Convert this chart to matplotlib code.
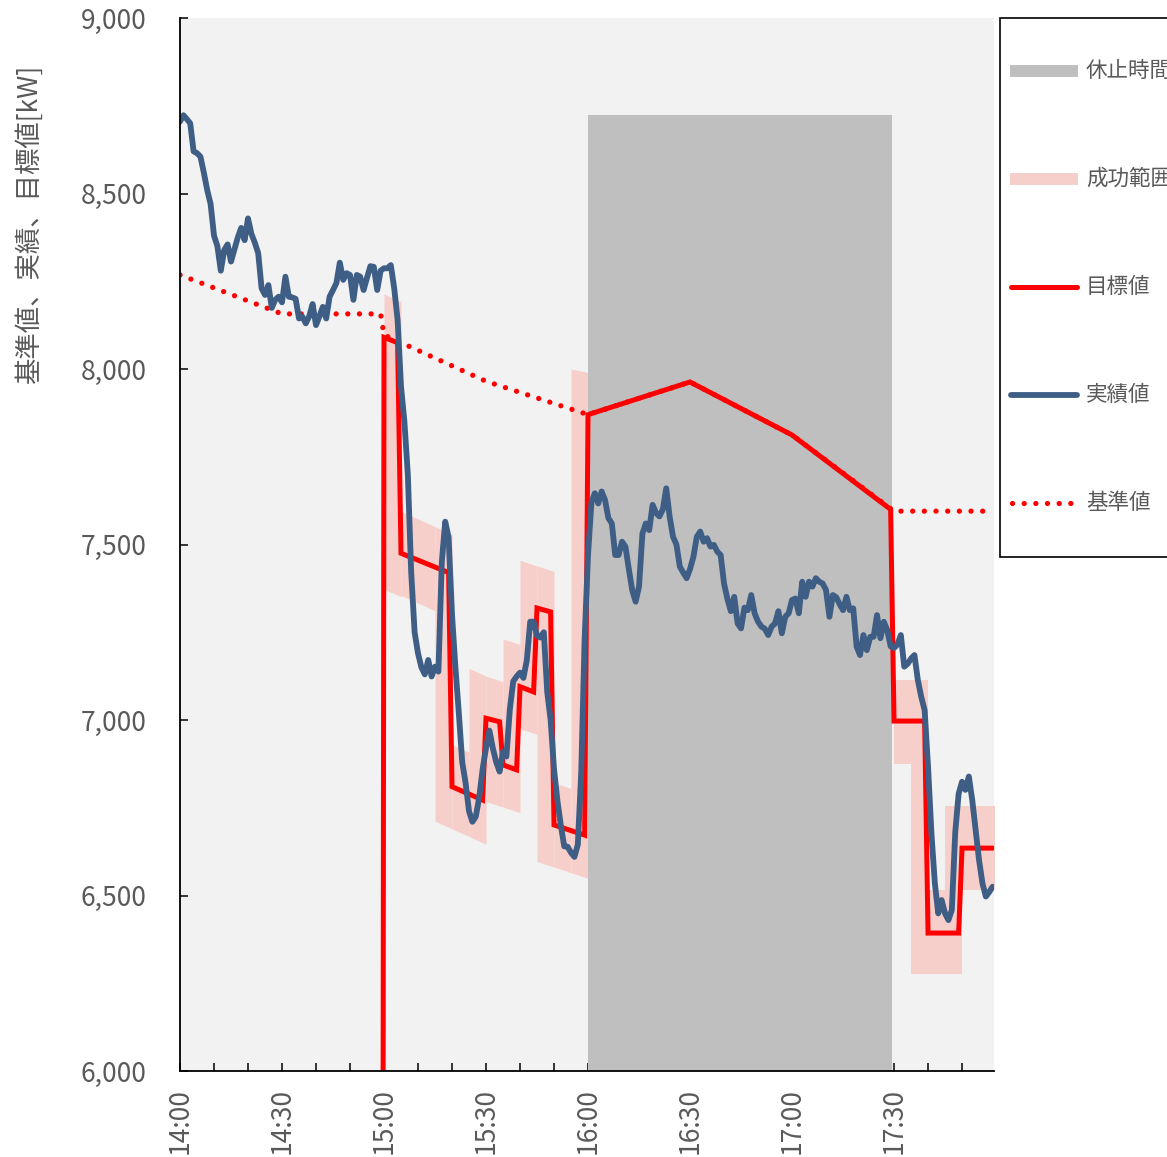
import numpy as np
import matplotlib
matplotlib.use("Agg")
import matplotlib.pyplot as plt
from matplotlib.lines import Line2D
from matplotlib.patches import Rectangle
from matplotlib.ticker import MultipleLocator, FuncFormatter

plt.rcParams['font.family'] = ['Noto Sans CJK JP', 'DejaVu Sans']

TEXT = '#595959'
RED = '#ff0000'
BLUE = '#3f5e85'
PINK = '#f6cfcb'
PAUSE = '#bfbfbf'
PLOT_BG = '#f2f2f2'

W, H = 1167, 1157


def to_min(hhmm):
    """Minutes after 14:00 for an 'HH:MM' or 'HH:MM:SS' string."""
    parts = [int(p) for p in hhmm.split(':')]
    while len(parts) < 3:
        parts.append(0)
    h, m, s = parts
    return (h - 14) * 60 + m + s / 60.0


# 実績値: one reading per minute, 14:00 .. 17:59 [kW]
actual_start = "14:00"
actual_kw = [
    8705, 8723, 8712, 8700, 8620, 8615, 8605, 8560, 8510, 8470,   # 14:00
    8380, 8350, 8280, 8339, 8355, 8306, 8340, 8375, 8402, 8367,   # 14:10
    8429, 8385, 8360, 8330, 8230, 8211, 8239, 8174, 8197, 8206,   # 14:20
    8190, 8263, 8206, 8204, 8200, 8144, 8149, 8130, 8150, 8185,   # 14:30
    8125, 8150, 8177, 8144, 8206, 8225, 8245, 8303, 8254, 8273,   # 14:40
    8268, 8197, 8268, 8263, 8225, 8260, 8293, 8291, 8225, 8280,   # 14:50
    8287, 8287, 8296, 8230, 8140, 7950, 7850, 7700, 7420, 7250,   # 15:00
    7190, 7150, 7130, 7171, 7124, 7152, 7138, 7450, 7565, 7520,   # 15:10
    7300, 7150, 7020, 6880, 6820, 6740, 6710, 6725, 6780, 6860,   # 15:20
    6920, 6970, 6920, 6880, 6853, 6910, 6896, 7030, 7110, 7124,   # 15:30
    7135, 7120, 7170, 7280, 7280, 7240, 7235, 7250, 7080, 7000,   # 15:40
    6860, 6770, 6700, 6640, 6639, 6622, 6610, 6645, 6850, 7230,   # 15:50
    7470, 7620, 7646, 7617, 7651, 7627, 7575, 7560, 7470, 7470,   # 16:00
    7508, 7494, 7430, 7370, 7337, 7380, 7531, 7560, 7541, 7613,   # 16:10
    7590, 7580, 7600, 7660, 7580, 7522, 7500, 7437, 7420, 7404,   # 16:20
    7430, 7465, 7522, 7537, 7508, 7518, 7494, 7499, 7480, 7470,   # 16:30
    7389, 7345, 7310, 7351, 7275, 7261, 7320, 7313, 7356, 7304,   # 16:40
    7280, 7266, 7260, 7242, 7266, 7275, 7310, 7247, 7294, 7304,   # 16:50
    7342, 7346, 7304, 7394, 7351, 7394, 7380, 7404, 7394, 7389,   # 17:00
    7370, 7294, 7356, 7350, 7330, 7313, 7351, 7313, 7318, 7209,   # 17:10
    7185, 7242, 7199, 7237, 7237, 7299, 7233, 7280, 7256, 7210,   # 17:20
    7205, 7215, 7242, 7152, 7160, 7175, 7185, 7114, 7066, 7028,   # 17:30
    6867, 6677, 6535, 6449, 6487, 6449, 6430, 6459, 6680, 6790,   # 17:40
    6824, 6801, 6839, 6772, 6687, 6601, 6535, 6497, 6510, 6525,   # 17:50
]

# 基準値 [kW]
baseline_time = ["14:00", "14:30", "14:59", "15:00", "15:30", "16:00",
                 "16:30", "17:00", "17:30", "17:59"]
baseline_kw = [8268, 8157, 8157, 8097, 7965, 7870, 7963, 7812, 7595, 7595]

# 目標値 [kW]
target_time = ["14:59", "15:00", "15:04", "15:05", "15:19", "15:20", "15:29",
               "15:30", "15:34", "15:35", "15:39", "15:40", "15:44", "15:45",
               "15:49", "15:50", "15:59", "16:00", "16:30", "17:00", "17:29",
               "17:30", "17:39", "17:40", "17:49", "17:50", "17:59"]
target_kw = [0, 8090, 8075, 7475, 7420, 6810, 6772,
             7005, 6995, 6872, 6858, 7095, 7080, 7319,
             7308, 6701, 6672, 7870, 7963, 7812, 7600,
             6997, 6997, 6393, 6393, 6635, 6635]

# 成功範囲: one band per slot, lower/upper edge at slot start and end [kW]
band_start = ["15:00", "15:05", "15:15", "15:20", "15:25", "15:30", "15:35",
              "15:40", "15:45", "15:50", "15:55", "17:30", "17:35", "17:40",
              "17:45", "17:50"]
band_end = ["15:05", "15:15", "15:20", "15:25", "15:30", "15:35", "15:40",
            "15:45", "15:50", "15:55", "16:00", "17:35", "17:40", "17:45",
            "17:50", "18:00"]
band_lo_start = [7372, 7355, 6712, 6690, 6668, 6768, 6752, 6975, 6597, 6581,
                 6565, 6875, 6275, 6275, 6275, 6515]
band_lo_end = [7352, 7311, 6690, 6668, 6646, 6752, 6736, 6959, 6581, 6565,
               6549, 6875, 6275, 6275, 6275, 6515]
band_hi_start = [8214, 7595, 7551, 6930, 7147, 7125, 7231, 7455, 7439, 6821,
                 8000, 7115, 7115, 6515, 6755, 6755]
band_hi_end = [8192, 7551, 7529, 6908, 7125, 7109, 7215, 7439, 7423, 6805,
               7990, 7115, 7115, 6515, 6755, 6755]

# 休止時間
pause_start = "16:00"
pause_end = "17:29:30"
pause_top_kw = 8725

# axis
x_end = "17:59:24"
y_min, y_max, y_step = 6000, 9000, 500

labels = {
    'pause': '休止時間',
    'band': '成功範囲',
    'target': '目標値',
    'actual': '実績値',
    'baseline': '基準値',
    'ylabel': '基準値、実績、目標値[kW]',
}

# ---------------------------------------------------------------------------
fig = plt.figure(figsize=(W / 100, H / 100), dpi=100)
ax = fig.add_axes([180 / W, 1 - 1071 / H, 814 / W, 1053 / H])
ax.set_facecolor(PLOT_BG)

# success range
for s, e, l0, l1, h0, h1 in zip(band_start, band_end, band_lo_start,
                                band_lo_end, band_hi_start, band_hi_end):
    ax.fill_between([to_min(s), to_min(e)], [l0, l1], [h0, h1],
                    color=PINK, lw=0, zorder=1)

# pause window
ax.bar(to_min(pause_start), pause_top_kw - y_min, bottom=y_min,
       width=to_min(pause_end) - to_min(pause_start), align='edge',
       color=PAUSE, lw=0, zorder=2)

dot_style = (0, (0.01, 2.2))
baseline_style = dict(color=RED, lw=3.8, linestyle=dot_style,
                      dash_capstyle='round')
target_style = dict(color=RED, lw=3.6, solid_capstyle='round')
actual_style = dict(color=BLUE, lw=4.2, solid_capstyle='round')

ax.plot([to_min(t) for t in baseline_time], baseline_kw, zorder=3,
        **baseline_style)
ax.plot([to_min(t) for t in target_time], target_kw, zorder=4,
        solid_joinstyle='miter', **target_style)
t_actual = to_min(actual_start) + np.arange(len(actual_kw))
ax.plot(t_actual, actual_kw, zorder=5, solid_joinstyle='round', **actual_style)

# axes
ax.set_xlim(0, to_min(x_end))
ax.set_ylim(y_min, y_max)
ax.xaxis.set_major_locator(MultipleLocator(30))
ax.xaxis.set_minor_locator(MultipleLocator(10))
ax.xaxis.set_major_formatter(
    FuncFormatter(lambda v, p: f"{14 + int(round(v)) // 60}:{int(round(v)) % 60:02d}"))
ax.yaxis.set_major_locator(MultipleLocator(y_step))
ax.yaxis.set_major_formatter(FuncFormatter(lambda v, p: f"{int(v):,}"))

for sp in ('top', 'right'):
    ax.spines[sp].set_visible(False)
for sp in ('left', 'bottom'):
    ax.spines[sp].set_color('black')
    ax.spines[sp].set_linewidth(1.3)
    ax.spines[sp].set_zorder(6)

ax.tick_params(axis='x', which='both', direction='in', length=6, width=1.1,
               color='black', labelsize=19, labelcolor=TEXT, pad=12,
               labelrotation=90)
ax.tick_params(axis='y', which='both', direction='in', length=6, width=1.1,
               color='black', labelsize=19, labelcolor=TEXT, pad=24)
for lab in ax.get_xticklabels():
    lab.set_va('top')

ax.set_ylabel(labels['ylabel'], fontsize=19, color=TEXT)
ax.yaxis.set_label_coords(-0.168, 0.804)

# legend box at the right edge (positions in figure pixels)
def fx(px):
    return px / W


def fy(py):
    return 1 - py / H


fig.add_artist(Rectangle((fx(1000), fy(557)), fx(1200) - fx(1000),
                         fy(18) - fy(557), transform=fig.transFigure,
                         facecolor='white', edgecolor='black', lw=1.2,
                         zorder=10))
legend_rows = [
    (labels['pause'], dict(color=PAUSE, lw=8.6, solid_capstyle='butt'), 1010, 1078),
    (labels['band'], dict(color=PINK, lw=8.6, solid_capstyle='butt'), 1010, 1078),
    (labels['target'], target_style, 1011, 1077),
    (labels['actual'], actual_style, 1011, 1077),
    (labels['baseline'], baseline_style, 1012, 1080),
]
for i, (name, style, x0, x1) in enumerate(legend_rows):
    yc = 71 + 108 * i
    fig.add_artist(Line2D([fx(x0), fx(x1)], [fy(yc), fy(yc)],
                          transform=fig.transFigure, zorder=11, **style))
    fig.text(fx(1086), fy(yc), name, fontsize=15.5, color=TEXT,
             ha='left', va='center', zorder=12)

fig.savefig('out.png', dpi=100, facecolor='white')
